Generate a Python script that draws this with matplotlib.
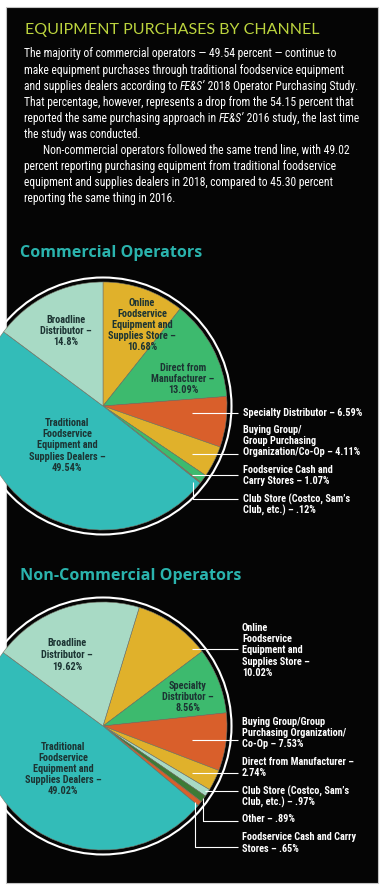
import matplotlib
matplotlib.use('Agg')
import matplotlib.pyplot as plt
from matplotlib import font_manager
from matplotlib.patches import Rectangle, Circle

W, H = 386, 892

TITLE = 'EQUIPMENT PURCHASES BY CHANNEL'
BODY = [
    [('The majority of commercial operators — 49.54 percent — continue to', 'normal')],
    [('make equipment purchases through traditional foodservice equipment', 'normal')],
    [('and supplies dealers according to ', 'normal'), ('FE&S’', 'italic'),
     (' 2018 Operator Purchasing Study.', 'normal')],
    [('That percentage, however, represents a drop from the 54.15 percent that', 'normal')],
    [('reported the same purchasing approach in ', 'normal'), ('FE&S’', 'italic'),
     (' 2016 study, the last time', 'normal')],
    [('the study was conducted.', 'normal')],
    [('Non-commercial operators followed the same trend line, with 49.02', 'normal')],
    [('percent reporting purchasing equipment from traditional foodservice', 'normal')],
    [('equipment and supplies dealers in 2018, compared to 45.30 percent', 'normal')],
    [('reporting the same thing in 2016.', 'normal')],
]

# commercial operators, clockwise from the top
com_names = ['Online Foodservice Equipment and Supplies Store', 'Direct from Manufacturer',
             'Specialty Distributor', 'Buying Group/Group Purchasing Organization/Co-Op',
             'Foodservice Cash and Carry Stores', 'Club Store (Costco, Sam’s Club, etc.)',
             'Traditional Foodservice Equipment and Supplies Dealers', 'Broadline Distributor']
com_values = [10.68, 13.09, 6.59, 4.11, 1.07, 0.12, 49.54, 14.8]

# non-commercial operators, clockwise from the online slice
non_names = ['Online Foodservice Equipment and Supplies Store', 'Specialty Distributor',
             'Buying Group/Group Purchasing Organization/Co-Op', 'Direct from Manufacturer',
             'Club Store (Costco, Sam’s Club, etc.)', 'Other', 'Foodservice Cash and Carry Stores',
             'Traditional Foodservice Equipment and Supplies Dealers', 'Broadline Distributor']
non_values = [10.02, 8.56, 7.53, 2.74, 0.97, 0.89, 0.65, 49.02, 19.62]

TEAL = '#33bcb8'
YELLOW = '#e0b12b'
GREEN = '#3dba6e'
ORANGE = '#d95f2b'
MINT = '#a8dac5'
DKGREEN = '#3d7b36'
com_colors = [YELLOW, GREEN, ORANGE, YELLOW, GREEN, ORANGE, TEAL, MINT]
non_colors = [YELLOW, GREEN, ORANGE, YELLOW, MINT, DKGREEN, ORANGE, TEAL, MINT]


def pick(*names):
    for n in names:
        try:
            font_manager.findfont(font_manager.FontProperties(family=n), fallback_to_default=False)
            return n
        except ValueError:
            pass
    return 'DejaVu Sans'


COND = pick('Liberation Sans Narrow', 'Roboto Condensed', 'Liberation Sans')
THIN = pick('Lato', 'Open Sans')
ROUND = pick('Open Sans', 'Lato')

fig = plt.figure(figsize=(W / 100, H / 100), dpi=100)
fig.patch.set_facecolor('white')
ax = fig.add_axes([0, 0, 1, 1])
renderer = fig.canvas.get_renderer()


def Y(y):
    return H - y


def fit(s, width, **kw):
    t = ax.text(0, 0, s, fontsize=10, **kw)
    w = t.get_window_extent(renderer).width
    t.remove()
    return 10 * width / w


panel = Rectangle((6, Y(883)), 372, 876, fc='#050505', ec='#c4c4c4', lw=0.8, zorder=0)
ax.add_patch(panel)


def pie(values, colors, center, start):
    wedges, _ = ax.pie(values, colors=colors, startangle=start, counterclock=False,
                       center=(center[0], Y(center[1])), radius=124,
                       wedgeprops=dict(lw=0.4, ec='#77776a'))
    for w in wedges:
        w.set_clip_path(panel)
        w.set_zorder(2)
    ring = Circle((center[0], Y(center[1])), 128.5, fill=False, ec='white', lw=1.5, zorder=2)
    ax.add_patch(ring)
    ring.set_clip_path(panel)


pie(com_values, com_colors, (103, 406), 90)
pie(non_values, non_colors, (103, 726), 73)

ax.set_xlim(0, W)
ax.set_ylim(0, H)
ax.set_aspect('auto')
ax.axis('off')

# title and paragraph
ts = fit(TITLE, 292, family=THIN)
ax.text(25, Y(30), TITLE, fontsize=ts, family=THIN, color='#bcd43e',
        va='center', ha='left')

bs = fit(BODY[0][0][0], 313, family=COND)
for i, runs in enumerate(BODY):
    x = 43 if i == 6 else 24
    for s, style in runs:
        t = ax.text(x, Y(54 + i * 16.1), s, fontsize=bs, family=COND, fontstyle=style,
                    color='white', va='center', ha='left')
        x += t.get_window_extent(renderer).width

hs = fit('Commercial Operators', 182, family=ROUND, fontweight='bold')
ax.text(20, Y(253), 'Commercial Operators', fontsize=hs, family=ROUND, fontweight='bold',
        color='#2ab3ad', va='center')
ax.text(20, Y(576), 'Non-Commercial Operators', fontsize=hs, family=ROUND, fontweight='bold',
        color='#2ab3ad', va='center')

ls = fit('Specialty Distributor – 6.59%', 120, family=COND, fontweight='bold')
DARK = '#1c3433'


def lines(x, y0, rows, dy, color='white', ha='left'):
    for i, s in enumerate(rows):
        ax.text(x, Y(y0 + i * dy), s, fontsize=ls, family=COND, fontweight='bold',
                color=color, va='center', ha=ha, zorder=4)


def leader(pts):
    ax.plot([p[0] for p in pts], [Y(p[1]) for p in pts], color='white', lw=0.8,
            solid_capstyle='butt', zorder=3)


# commercial labels
lines(66, 320, ['Broadline', 'Distributor –', f'{com_values[7]}%'], 10.8, DARK, 'center')
lines(142, 303, ['Online', 'Foodservice', 'Equipment and', 'Supplies Store –',
                 f'{com_values[0]:.2f}%'], 11, DARK, 'center')
lines(183, 368, ['Direct from', 'Manufacturer –', f'{com_values[1]:.2f}%'], 11, DARK, 'center')
lines(67, 423, ['Traditional', 'Foodservice', 'Equipment and', 'Supplies Dealers –',
                f'{com_values[6]:.2f}%'], 11.2, DARK, 'center')

lines(243, 413, [f'Specialty Distributor – {com_values[2]:.2f}%'], 11)
lines(243, 430, ['Buying Group/', 'Group Purchasing', f'Organization/Co-Op – {com_values[3]:.2f}%'], 11)
lines(243, 470, ['Foodservice Cash and', f'Carry Stores – {com_values[4]:.2f}%'], 11)
lines(243, 499, ['Club Store (Costco, Sam’s', f'Club, etc.) – .{int(com_values[5] * 100):02d}%'], 11)
leader([(192, 413), (238, 413)])
leader([(192, 454), (238, 454)])
leader([(192, 475), (238, 475)])
leader([(193, 482), (193, 498.5), (238, 498.5)])

# non-commercial labels
lines(67, 643, ['Broadline', 'Distributor –', f'{non_values[8]:.2f}%'], 12, DARK, 'center')
lines(188, 686, ['Specialty', 'Distributor –', f'{non_values[1]:.2f}%'], 11, DARK, 'center')
lines(63, 747, ['Traditional', 'Foodservice', 'Equipment and', 'Supplies Dealers –',
                f'{non_values[7]:.2f}%'], 11, DARK, 'center')

lines(242, 628, ['Online', 'Foodservice', 'Equipment and', 'Supplies Store –',
                 f'{non_values[0]:.2f}%'], 11.2)
lines(242, 722, ['Buying Group/Group', 'Purchasing Organization/', f'Co-Op – {non_values[2]:.2f}%'], 11)
lines(242, 762, ['Direct from Manufacturer –', f'{non_values[3]:.2f}%'], 11)
lines(242, 791, ['Club Store (Costco, Sam’s', f'Club, etc.) – .{int(round(non_values[4] * 100))}%'], 11.5)
lines(242, 819, [f'Other – .{int(round(non_values[5] * 100))}%'], 11)
lines(242, 837, ['Foodservice Cash and Carry', f'Stores – .{int(round(non_values[6] * 100))}%'], 11.5)
leader([(192, 649), (238, 649)])
leader([(192, 740), (238, 740)])
leader([(192, 773), (238, 773)])
leader([(205, 791), (238, 791)])
leader([(203, 798), (203, 821), (238, 821)])
leader([(195, 802), (195, 847), (238, 847)])

fig.savefig('out.png', dpi=100, facecolor='white')
